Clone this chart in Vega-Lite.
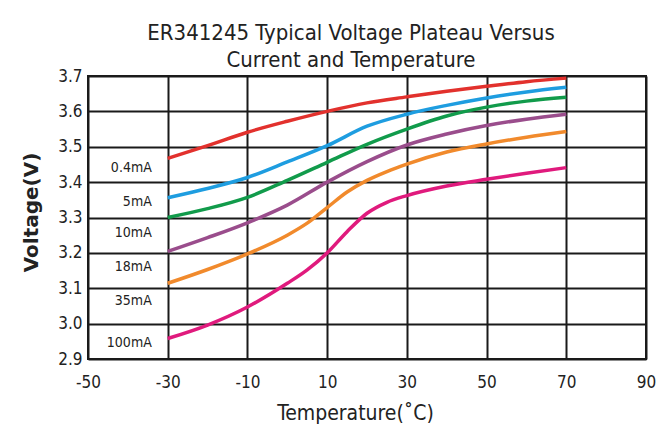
{
  "$schema": "https://vega.github.io/schema/vega-lite/v6.json",
  "autosize": {"type": "none"},
  "width": 558,
  "height": 283,
  "padding": {"left": 88, "top": 76, "right": 21, "bottom": 72},
  "background": "white",
  "title": {
    "text": ["ER341245 Typical Voltage Plateau Versus", "Current and Temperature"],
    "font": "DejaVu Sans Condensed, Liberation Sans, sans-serif",
    "fontSize": 22,
    "fontWeight": "normal",
    "color": "#222222",
    "lineHeight": 27,
    "anchor": "middle",
    "dx": -16,
    "offset": -5
  },
  "datasets": {
    "curves": [
      {"series": "0.4mA", "temp": -30, "volt": 3.467},
      {"series": "0.4mA", "temp": -20, "volt": 3.503},
      {"series": "0.4mA", "temp": -10, "volt": 3.541},
      {"series": "0.4mA", "temp": 0, "volt": 3.572},
      {"series": "0.4mA", "temp": 10, "volt": 3.600},
      {"series": "0.4mA", "temp": 20, "volt": 3.624},
      {"series": "0.4mA", "temp": 30, "volt": 3.641},
      {"series": "0.4mA", "temp": 40, "volt": 3.657},
      {"series": "0.4mA", "temp": 50, "volt": 3.671},
      {"series": "0.4mA", "temp": 60, "volt": 3.684},
      {"series": "0.4mA", "temp": 70, "volt": 3.694},
      {"series": "5mA", "temp": -30, "volt": 3.356},
      {"series": "5mA", "temp": -20, "volt": 3.382},
      {"series": "5mA", "temp": -10, "volt": 3.413},
      {"series": "5mA", "temp": 0, "volt": 3.457},
      {"series": "5mA", "temp": 10, "volt": 3.503},
      {"series": "5mA", "temp": 20, "volt": 3.558},
      {"series": "5mA", "temp": 30, "volt": 3.592},
      {"series": "5mA", "temp": 40, "volt": 3.617},
      {"series": "5mA", "temp": 50, "volt": 3.638},
      {"series": "5mA", "temp": 60, "volt": 3.655},
      {"series": "5mA", "temp": 70, "volt": 3.668},
      {"series": "10mA", "temp": -30, "volt": 3.300},
      {"series": "10mA", "temp": -20, "volt": 3.325},
      {"series": "10mA", "temp": -10, "volt": 3.357},
      {"series": "10mA", "temp": 0, "volt": 3.405},
      {"series": "10mA", "temp": 10, "volt": 3.456},
      {"series": "10mA", "temp": 20, "volt": 3.507},
      {"series": "10mA", "temp": 30, "volt": 3.550},
      {"series": "10mA", "temp": 40, "volt": 3.587},
      {"series": "10mA", "temp": 50, "volt": 3.612},
      {"series": "10mA", "temp": 60, "volt": 3.629},
      {"series": "10mA", "temp": 70, "volt": 3.640},
      {"series": "18mA", "temp": -30, "volt": 3.204},
      {"series": "18mA", "temp": -20, "volt": 3.243},
      {"series": "18mA", "temp": -10, "volt": 3.285},
      {"series": "18mA", "temp": 0, "volt": 3.335},
      {"series": "18mA", "temp": 10, "volt": 3.400},
      {"series": "18mA", "temp": 20, "volt": 3.458},
      {"series": "18mA", "temp": 30, "volt": 3.505},
      {"series": "18mA", "temp": 40, "volt": 3.536},
      {"series": "18mA", "temp": 50, "volt": 3.560},
      {"series": "18mA", "temp": 60, "volt": 3.578},
      {"series": "18mA", "temp": 70, "volt": 3.592},
      {"series": "35mA", "temp": -30, "volt": 3.114},
      {"series": "35mA", "temp": -20, "volt": 3.153},
      {"series": "35mA", "temp": -10, "volt": 3.197},
      {"series": "35mA", "temp": 0, "volt": 3.250},
      {"series": "35mA", "temp": 5, "volt": 3.284},
      {"series": "35mA", "temp": 10, "volt": 3.328},
      {"series": "35mA", "temp": 15, "volt": 3.372},
      {"series": "35mA", "temp": 20, "volt": 3.405},
      {"series": "35mA", "temp": 25, "volt": 3.430},
      {"series": "35mA", "temp": 30, "volt": 3.451},
      {"series": "35mA", "temp": 40, "volt": 3.485},
      {"series": "35mA", "temp": 50, "volt": 3.508},
      {"series": "35mA", "temp": 60, "volt": 3.527},
      {"series": "35mA", "temp": 70, "volt": 3.543},
      {"series": "100mA", "temp": -30, "volt": 2.958},
      {"series": "100mA", "temp": -20, "volt": 2.996},
      {"series": "100mA", "temp": -10, "volt": 3.047},
      {"series": "100mA", "temp": 0, "volt": 3.114},
      {"series": "100mA", "temp": 5, "volt": 3.152},
      {"series": "100mA", "temp": 10, "volt": 3.200},
      {"series": "100mA", "temp": 15, "volt": 3.260},
      {"series": "100mA", "temp": 20, "volt": 3.312},
      {"series": "100mA", "temp": 25, "volt": 3.343},
      {"series": "100mA", "temp": 30, "volt": 3.362},
      {"series": "100mA", "temp": 40, "volt": 3.389},
      {"series": "100mA", "temp": 50, "volt": 3.408},
      {"series": "100mA", "temp": 60, "volt": 3.425},
      {"series": "100mA", "temp": 70, "volt": 3.441}
    ],
    "labels": [
      {"series": "0.4mA", "temp": -34, "volt": 3.44},
      {"series": "5mA", "temp": -34, "volt": 3.345},
      {"series": "10mA", "temp": -34, "volt": 3.255},
      {"series": "18mA", "temp": -34, "volt": 3.16},
      {"series": "35mA", "temp": -34, "volt": 3.065},
      {"series": "100mA", "temp": -34, "volt": 2.945}
    ]
  },
  "encoding": {
    "x": {
      "field": "temp",
      "type": "quantitative",
      "scale": {"domain": [-50, 90], "nice": false, "zero": false},
      "axis": {
        "values": [-50, -30, -10, 10, 30, 50, 70, 90],
        "labelExpr": "replace(datum.label, '\u2212', '-')",
        "title": "Temperature(˚C)",
        "titleX": 267,
        "titleY": 54,
        "titleBaseline": "middle",
        "titleAnchor": "middle"
      }
    },
    "y": {
      "field": "volt",
      "type": "quantitative",
      "scale": {"domain": [2.9, 3.7], "nice": false, "zero": false},
      "axis": {
        "values": [2.9, 3.0, 3.1, 3.2, 3.3, 3.4, 3.5, 3.6, 3.7],
        "tickCount": 9,
        "format": ".1f",
        "labelOverlap": false,
        "title": "Voltage(V)",
        "titleFont": "DejaVu Sans, Liberation Sans, sans-serif",
        "titleFontWeight": "bold",
        "titleFontSize": 20,
        "titleX": -57,
        "titleY": 136,
        "titleBaseline": "middle",
        "titleAnchor": "middle"
      }
    }
  },
  "layer": [
    {
      "data": {"name": "curves"},
      "mark": {"type": "line", "interpolate": "monotone", "strokeWidth": 3.5},
      "encoding": {
        "color": {
          "field": "series",
          "type": "nominal",
          "scale": {
            "domain": ["0.4mA", "5mA", "10mA", "18mA", "35mA", "100mA"],
            "range": ["#e2312d", "#1e9de0", "#119b4b", "#9a4d8c", "#f18a2c", "#e01a7d"]
          },
          "legend": null
        },
        "detail": {"field": "series"}
      }
    },
    {
      "data": {"name": "labels"},
      "mark": {"type": "text", "align": "right", "baseline": "middle", "font": "DejaVu Sans Condensed, Liberation Sans, sans-serif", "fontSize": 14, "color": "#222222"},
      "encoding": {
        "text": {"field": "series"}
      }
    }
  ],
  "config": {
    "view": {"stroke": "#1a1a1a", "strokeWidth": 2},
    "axis": {
      "grid": true,
      "gridColor": "#1a1a1a",
      "gridWidth": 2,
      "gridOpacity": 1,
      "ticks": false,
      "domain": false,
      "labelOverlap": false,
      "labelFont": "DejaVu Sans Condensed, Liberation Sans, sans-serif",
      "labelFontSize": 17,
      "labelColor": "#222222",
      "titleFont": "DejaVu Sans Condensed, Liberation Sans, sans-serif",
      "titleFontSize": 21,
      "titleFontWeight": "normal",
      "titleColor": "#222222"
    },
    "axisX": {"labelPadding": 15, "labelFlush": false},
    "axisY": {"labelPadding": 6, "labelFlush": false}
  }
}
